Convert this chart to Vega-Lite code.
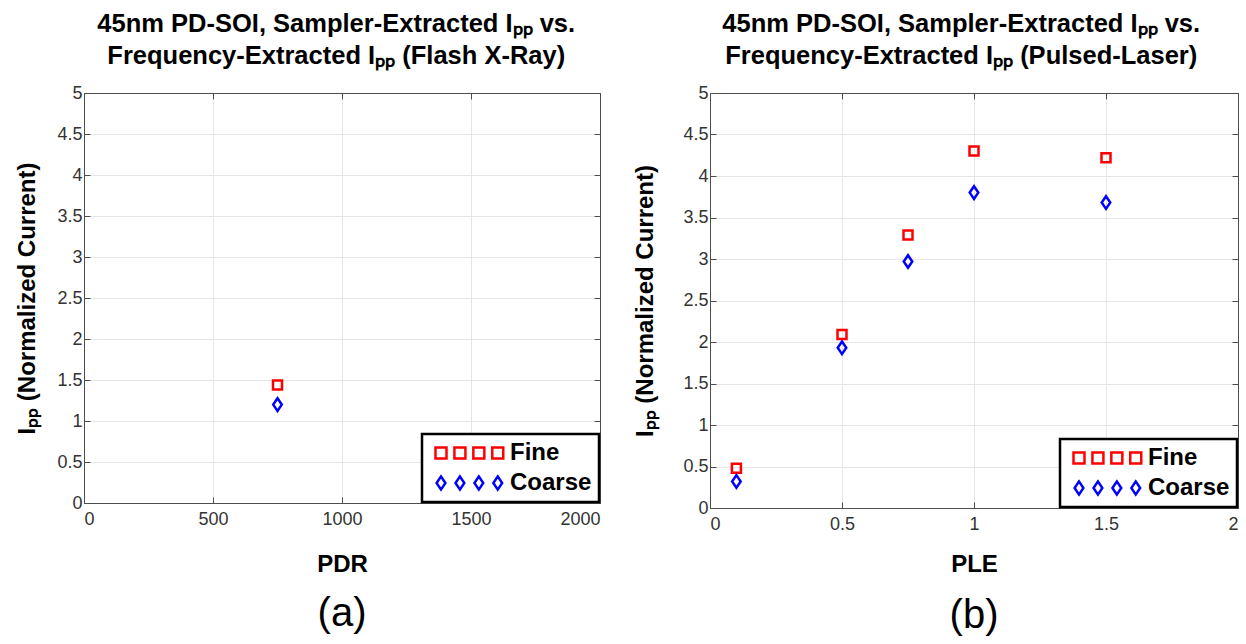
{
  "$schema": "https://vega.github.io/schema/vega-lite/v6.json",
  "padding": {"left": 15, "top": 12, "right": 0, "bottom": 0},
  "background": "white",
  "spacing": 32,
  "resolve": {"scale": {"color": "independent", "shape": "independent"}, "legend": {"color": "independent", "shape": "independent"}},
  "datasets": {
    "xray": [
      {"pdr": 750, "method": "Fine", "ipp": 1.44},
      {"pdr": 750, "method": "Coarse", "ipp": 1.2}
    ],
    "laser": [
      {"ple": 0.1, "method": "Fine", "ipp": 0.48},
      {"ple": 0.1, "method": "Coarse", "ipp": 0.32},
      {"ple": 0.5, "method": "Fine", "ipp": 2.09},
      {"ple": 0.5, "method": "Coarse", "ipp": 1.93},
      {"ple": 0.75, "method": "Fine", "ipp": 3.29},
      {"ple": 0.75, "method": "Coarse", "ipp": 2.97},
      {"ple": 1.0, "method": "Fine", "ipp": 4.3},
      {"ple": 1.0, "method": "Coarse", "ipp": 3.8},
      {"ple": 1.5, "method": "Fine", "ipp": 4.22},
      {"ple": 1.5, "method": "Coarse", "ipp": 3.68}
    ]
  },
  "config": {
    "font": "Liberation Sans",
    "view": {"stroke": "#4d4d4d", "strokeWidth": 1},
    "title": {"font": "Liberation Sans", "fontSize": 25.5, "fontWeight": "bold", "color": "black", "lineHeight": 32, "anchor": "middle"},
    "axis": {
      "labelFont": "Liberation Sans",
      "labelFontSize": 18,
      "labelColor": "#333333",
      "titleFont": "Liberation Sans",
      "titleFontSize": 24,
      "titleFontWeight": "bold",
      "titleColor": "black",
      "domainColor": "#4d4d4d",
      "tickColor": "#4d4d4d",
      "tickSize": -6,
      "gridColor": "#e6e6e6",
      "gridWidth": 1,
      "format": "~f"
    },
    "axisX": {"labelPadding": 13},
    "axisY": {"labelPadding": 8},
    "legend": {
      "orient": "bottom-right",
      "offset": 1,
      "title": null,
      "fillColor": "white",
      "strokeColor": "black",
      "strokeWidth": 2.5,
      "padding": 7,
      "rowPadding": 6,
      "labelFont": "Liberation Sans",
      "labelFontSize": 24,
      "labelFontWeight": "bold",
      "labelColor": "black",
      "labelOffset": 57,
      "symbolSize": 121,
      "symbolStrokeWidth": 2.5
    }
  },
  "hconcat": [
    {
      "title": {"text": ["45nm PD-SOI, Sampler-Extracted Iₚₚ vs.", "Frequency-Extracted Iₚₚ (Flash X-Ray)"], "offset": 14, "dx": 28},
      "resolve": {"scale": {"color": "independent", "shape": "independent"}, "legend": {"color": "independent", "shape": "independent"}},
      "vconcat": [
        {
          "width": 516,
          "height": 410,
          "title": {"text": "(a)", "orient": "bottom", "fontSize": 40, "fontWeight": "normal", "offset": 18},
          "data": {"name": "xray"},
          "resolve": {"axis": {"x": "independent", "y": "independent"}},
          "layer": [
            {
              "mark": {"type": "point", "filled": false, "strokeWidth": 2.5, "size": 81, "opacity": 1},
              "encoding": {
                "x": {"field": "pdr", "type": "quantitative", "title": "PDR",
                  "scale": {"domain": [0, 2000], "nice": false},
                  "axis": {"values": [0, 500, 1000, 1500, 2000], "titlePadding": 24}},
                "y": {"field": "ipp", "type": "quantitative", "title": "Iₚₚ (Normalized Current)",
                  "scale": {"domain": [0, 5], "nice": false},
                  "axis": {"values": [0, 0.5, 1, 1.5, 2, 2.5, 3, 3.5, 4, 4.5, 5], "titlePadding": 17}},
                "color": {"field": "method", "type": "nominal",
                  "scale": {"domain": ["Fine", "Coarse"], "range": ["#ff0000", "#0000ff"]},
                  "legend": {"symbolType": {"expr": "datum.value === 'Fine' ? 'M-1,-1H1V1H-1Z M2.44,-1H4.44V1H2.44Z M5.88,-1H7.88V1H5.88Z M9.32,-1H11.32V1H9.32Z' : 'M0,-1.2L0.8,0L0,1.2L-0.8,0Z M3.44,-1.2L4.24,0L3.44,1.2L2.64,0Z M6.88,-1.2L7.68,0L6.88,1.2L6.08,0Z M10.32,-1.2L11.12,0L10.32,1.2L9.52,0Z'"}}},
                "shape": {"field": "method", "type": "nominal", "legend": null,
                  "scale": {"domain": ["Coarse", "Fine"], "range": ["M0,-1.4L0.95,0L0,1.4L-0.95,0Z", "M-1,-1H1V1H-1Z"]}}
              }
            },
            {
              "mark": {"type": "point", "opacity": 0},
              "encoding": {
                "x": {"field": "pdr", "type": "quantitative",
                  "axis": {"orient": "top", "values": [0, 500, 1000, 1500, 2000], "labels": false, "grid": false, "title": null}},
                "y": {"field": "ipp", "type": "quantitative",
                  "axis": {"orient": "right", "values": [0, 0.5, 1, 1.5, 2, 2.5, 3, 3.5, 4, 4.5, 5], "labels": false, "grid": false, "title": null}}
              }
            }
          ]
        }
      ]
    },
    {
      "title": {"text": ["45nm PD-SOI, Sampler-Extracted Iₚₚ vs.", "Frequency-Extracted Iₚₚ (Pulsed-Laser)"], "offset": 14, "dx": 25},
      "resolve": {"scale": {"color": "independent", "shape": "independent"}, "legend": {"color": "independent", "shape": "independent"}},
      "vconcat": [
        {
          "width": 528,
          "height": 415,
          "title": {"text": "(b)", "orient": "bottom", "fontSize": 40, "fontWeight": "normal", "offset": 20},
          "data": {"name": "laser"},
          "resolve": {"axis": {"x": "independent", "y": "independent"}},
          "layer": [
            {
              "mark": {"type": "point", "filled": false, "strokeWidth": 2.5, "size": 81, "opacity": 1},
              "encoding": {
                "x": {"field": "ple", "type": "quantitative", "title": "PLE",
                  "scale": {"domain": [0, 2], "nice": false},
                  "axis": {"values": [0, 0.5, 1, 1.5, 2], "titlePadding": 19}},
                "y": {"field": "ipp", "type": "quantitative", "title": "Iₚₚ (Normalized Current)",
                  "scale": {"domain": [0, 5], "nice": false},
                  "axis": {"values": [0, 0.5, 1, 1.5, 2, 2.5, 3, 3.5, 4, 4.5, 5], "titlePadding": 25}},
                "color": {"field": "method", "type": "nominal",
                  "scale": {"domain": ["Fine", "Coarse"], "range": ["#ff0000", "#0000ff"]},
                  "legend": {"symbolType": {"expr": "datum.value === 'Fine' ? 'M-1,-1H1V1H-1Z M2.44,-1H4.44V1H2.44Z M5.88,-1H7.88V1H5.88Z M9.32,-1H11.32V1H9.32Z' : 'M0,-1.2L0.8,0L0,1.2L-0.8,0Z M3.44,-1.2L4.24,0L3.44,1.2L2.64,0Z M6.88,-1.2L7.68,0L6.88,1.2L6.08,0Z M10.32,-1.2L11.12,0L10.32,1.2L9.52,0Z'"}}},
                "shape": {"field": "method", "type": "nominal", "legend": null,
                  "scale": {"domain": ["Coarse", "Fine"], "range": ["M0,-1.4L0.95,0L0,1.4L-0.95,0Z", "M-1,-1H1V1H-1Z"]}}
              }
            },
            {
              "mark": {"type": "point", "opacity": 0},
              "encoding": {
                "x": {"field": "ple", "type": "quantitative",
                  "axis": {"orient": "top", "values": [0, 0.5, 1, 1.5, 2], "labels": false, "grid": false, "title": null}},
                "y": {"field": "ipp", "type": "quantitative",
                  "axis": {"orient": "right", "values": [0, 0.5, 1, 1.5, 2, 2.5, 3, 3.5, 4, 4.5, 5], "labels": false, "grid": false, "title": null}}
              }
            }
          ]
        }
      ]
    }
  ]
}
